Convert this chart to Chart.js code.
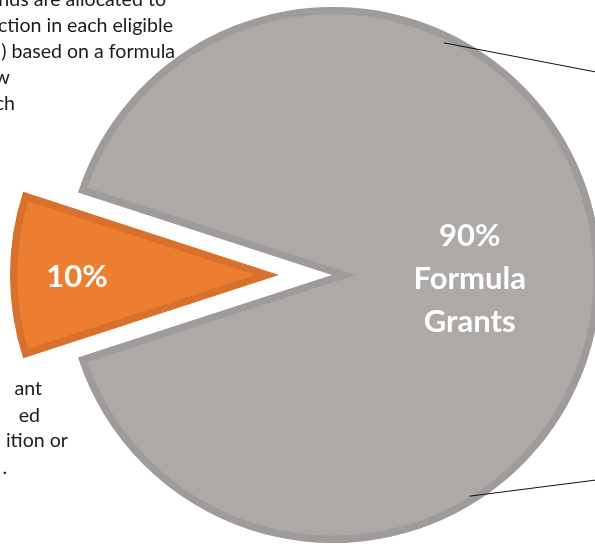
<!DOCTYPE html>
<html>
<head>
<meta charset="utf-8">
<script src="https://cdn.jsdelivr.net/npm/chart.js@4.4.1/dist/chart.umd.min.js"></script>
<style>
html, body { margin: 0; padding: 0; width: 595px; height: 547px; overflow: hidden; background: #fff; }
body { position: relative; }
.wrap { position: absolute; top: 0; width: 666px; height: 550px; }
#grayWrap { left: 0; }
#orangeWrap { left: -55px; }
.note { position: absolute; font-family: Lato, sans-serif; font-size: 19.6px; color: #1b1b1b; white-space: nowrap; line-height: 20px; text-align: right; }
</style>
</head>
<body>
<div class="wrap" id="orangeWrap"><canvas id="orange"></canvas></div>
<div class="wrap" id="grayWrap"><canvas id="gray"></canvas></div>

<div class="note" style="right:429px; top:-11px;">nds are allocated to</div>
<div class="note" style="right:422px; top:15px;">ction in each eligible</div>
<div class="note" style="right:420px; top:41px;">) based on a formula</div>
<div class="note" style="right:585px; top:67px;">w</div>
<div class="note" style="right:580px; top:93px;">ch</div>

<div class="note" style="right:553px; top:378px;">ant</div>
<div class="note" style="right:555px; top:405px;">ed</div>
<div class="note" style="right:527px; top:430px;">ition or</div>
<div class="note" style="right:588px; top:457px;">.</div>

<script>
const SLICES = ['Other', 'Formula Grants']
const SHARES = [10, 90]
const SLICE_TEXT = [
	['10%'],
	['90%', 'Formula', 'Grants']
]

const FILLS = ['#ED7D31', '#ADA9A7']
const EDGES = ['#D8712C', '#9E9B9A']

// white labels inside the slice
const sliceText = {
	id: 'sliceText',
	afterDatasetsDraw(chart, args, opts) {
		const ctx = chart.ctx;
		const arc = chart.getDatasetMeta(0).data[opts.index];
		const mid = (arc.startAngle + arc.endAngle) / 2;
		const r = arc.outerRadius * opts.dist;
		const x = arc.x + Math.cos(mid) * r;
		const y = arc.y + Math.sin(mid) * r + opts.dy;
		const lines = SLICE_TEXT[opts.index];
		ctx.save();
		ctx.fillStyle = '#fff';
		ctx.font = 'bold 31px Lato';
		ctx.textAlign = 'center';
		ctx.textBaseline = 'middle';
		lines.forEach((ln, i) => {
			ctx.fillText(ln, x, y + (i - (lines.length - 1) / 2) * 43);
		});
		ctx.restore();
	}
};

// thin leader lines going off the right edge
const leaders = {
	id: 'leaders',
	afterDraw(chart, args, opts) {
		if (!opts.lines) return;
		const ctx = chart.ctx;
		const arc = chart.getDatasetMeta(0).data[1];
		ctx.save();
		ctx.strokeStyle = '#111';
		ctx.lineWidth = 1;
		opts.lines.forEach(l => {
			const a = l.angle * Math.PI / 180;
			ctx.beginPath();
			ctx.moveTo(arc.x + Math.cos(a) * arc.outerRadius * l.r, arc.y + Math.sin(a) * arc.outerRadius * l.r);
			ctx.lineTo(l.x, l.y);
			ctx.stroke();
		});
		ctx.restore();
	}
};

function makePie(id, show, labelOpts, leaderOpts) {
	return new Chart(document.getElementById(id), {
		type: 'pie',
		data: {
			labels: SLICES,
			datasets: [{
				data: SHARES,
				backgroundColor: FILLS.map((c, i) => i === show ? c : 'rgba(0,0,0,0)'),
				borderColor: EDGES.map((c, i) => i === show ? c : 'rgba(0,0,0,0)'),
				borderWidth: 7,
				borderAlign: 'inner',
				borderJoinStyle: 'miter',
			}]
		},
		options: {
			responsive: true,
			maintainAspectRatio: false,
			animation: false,
			events: [],
			rotation: 252,
			radius: 268,
			layout: { padding: 0 },
			plugins: {
				legend: { display: false },
				tooltip: { enabled: false },
				sliceText: labelOpts,
				leaders: leaderOpts
			}
		},
		plugins: [sliceText, leaders]
	});
}

makePie('orange', 0, { index: 0, dist: 0.75, dy: 2 }, {});
makePie('gray', 1, { index: 1, dist: 0.51, dy: 4 }, {
	lines: [
		{ angle: -64.5, r: 0.96, x: 596, y: 72 },
		{ angle: 58.3, r: 0.97, x: 596, y: 480 }
	]
});
</script>
</body>
</html>
